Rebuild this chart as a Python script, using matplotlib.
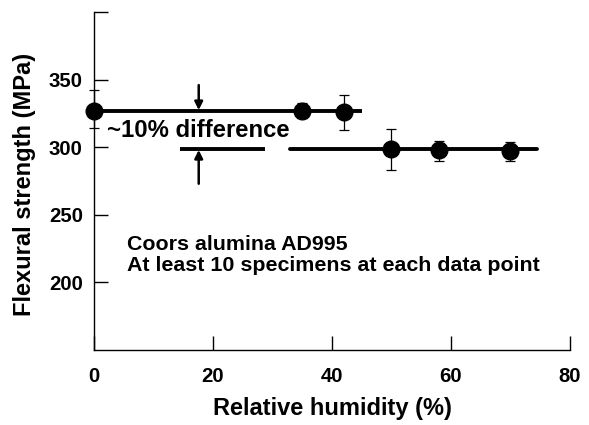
import matplotlib
matplotlib.use("Agg")
import matplotlib.pyplot as plt

plt.rcParams['font.family'] = ['Liberation Sans', 'DejaVu Sans']
plt.rcParams['font.weight'] = 'bold'

# Data
humidity = [0, 35, 42, 50, 58, 70]
strength = [327, 327, 326, 298.5, 298, 297]
err_low = [13, 5, 13, 15, 8, 7.5]
err_high = [15, 6, 13, 15, 6.5, 7]

upper_line_x = [0, 45]
upper_line_y = [327, 327]
lower_seg1_x = [14.5, 28.8]
lower_seg2_x = [33, 74.5]
lower_line_y = 298.5

x_ticks = [0, 20, 40, 60, 80]
y_ticks = [200, 250, 300, 350]

fig = plt.figure(figsize=(5.89, 4.25), dpi=100)
ax = fig.add_axes([0.1596, 0.1765, 0.8081, 0.795])

ax.plot(upper_line_x, upper_line_y, color='black', lw=2.8, solid_capstyle='butt', zorder=2)
ax.plot(lower_seg1_x, [lower_line_y]*2, color='black', lw=2.8, solid_capstyle='butt', zorder=2)
ax.plot(lower_seg2_x, [lower_line_y]*2, color='black', lw=2.8, solid_capstyle='round', zorder=2)

ax.errorbar(humidity, strength, yerr=[err_low, err_high], fmt='o', color='black',
            ms=12, ecolor='black', elinewidth=0.9, capsize=3.5, capthick=0.9, zorder=3, clip_on=False)

# arrows
ax.annotate('', xy=(17.6, 327.5), xytext=(17.6, 346),
            arrowprops=dict(arrowstyle='-|>', color='black', lw=1.8, mutation_scale=12, shrinkA=0, shrinkB=0))
ax.annotate('', xy=(17.6, 298), xytext=(17.6, 273),
            arrowprops=dict(arrowstyle='-|>', color='black', lw=1.8, mutation_scale=12, shrinkA=0, shrinkB=0))

ax.text(2.2, 312.5, '~10% difference', fontsize=17.2, fontweight='bold', va='center', ha='left')
ax.text(5.5, 220, 'Coors alumina AD995\nAt least 10 specimens at each data point',
        fontsize=15.4, fontweight='bold', va='center', ha='left', linespacing=1.12)

ax.set_xlim(0, 80)
ax.set_ylim(150, 400)
ax.set_xticks(x_ticks)
ax.set_yticks(y_ticks + [400])
ax.set_yticklabels([str(t) for t in y_ticks] + [''])
ax.tick_params(direction='in', length=10, width=1, labelsize=14.7, pad=8)
ax.tick_params(axis='x', pad=12)
for s in ['top', 'right']:
    ax.spines[s].set_visible(False)
for s in ['left', 'bottom']:
    ax.spines[s].set_linewidth(1)

ax.set_xlabel('Relative humidity (%)', fontsize=17, fontweight='bold')
ax.set_ylabel('Flexural strength (MPa)', fontsize=17, fontweight='bold')
ax.xaxis.set_label_coords(0.5, -0.138)
ax.yaxis.set_label_coords(-0.122, 0.49)

fig.savefig('out.png', dpi=100)
